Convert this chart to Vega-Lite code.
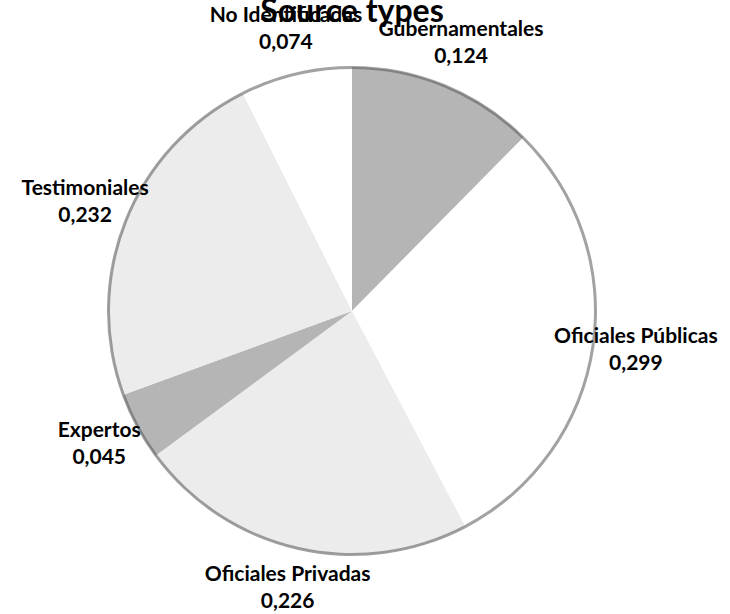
{
  "$schema": "https://vega.github.io/schema/vega-lite/v6.json",
  "width": 704,
  "height": 562,
  "padding": {"left": 0, "top": 30, "right": 26, "bottom": 22},
  "autosize": {"type": "none"},
  "background": "white",
  "title": {
    "text": "Source types",
    "font": "Lato",
    "fontSize": 32,
    "fontWeight": "bold",
    "color": "#000000",
    "anchor": "middle",
    "frame": "group",
    "offset": -12,
    "dy": 12
  },
  "data": {
    "values": [
      {"i": 1, "source": "Gubernamentales", "value": 0.124},
      {"i": 2, "source": "Oficiales Públicas", "value": 0.299},
      {"i": 3, "source": "Oficiales Privadas", "value": 0.226},
      {"i": 4, "source": "Expertos", "value": 0.045},
      {"i": 5, "source": "Testimoniales", "value": 0.232},
      {"i": 6, "source": "No Identificadas", "value": 0.074}
    ]
  },
  "transform": [
    {"calculate": "[datum.source, replace(format(datum.value, '.3f'), '.', ',')]", "as": "label"}
  ],
  "encoding": {
    "theta": {"field": "value", "type": "quantitative", "stack": true},
    "order": {"field": "i", "type": "quantitative"}
  },
  "layer": [
    {
      "mark": {"type": "arc", "outerRadius": 244, "stroke": null},
      "encoding": {
        "color": {
          "field": "source",
          "type": "nominal",
          "scale": {
            "domain": ["Gubernamentales", "Oficiales Públicas", "Oficiales Privadas", "Expertos", "Testimoniales", "No Identificadas"],
            "range": ["#b5b5b5", "#ffffff", "#ececec", "#b5b5b5", "#ececec", "#ffffff"]
          },
          "legend": null
        }
      }
    },
    {
      "mark": {"type": "arc", "innerRadius": 242, "outerRadius": 245, "fill": "#555555", "opacity": 0.55, "stroke": null},
      "encoding": {}
    },
    {
      "mark": {"type": "text", "radius": 287, "dy": -16, "font": "Lato", "fontSize": 21, "fontWeight": "bold", "lineHeight": 27, "align": "center", "baseline": "middle", "color": "#000000"},
      "encoding": {
        "text": {"field": "label"}
      }
    }
  ]
}
